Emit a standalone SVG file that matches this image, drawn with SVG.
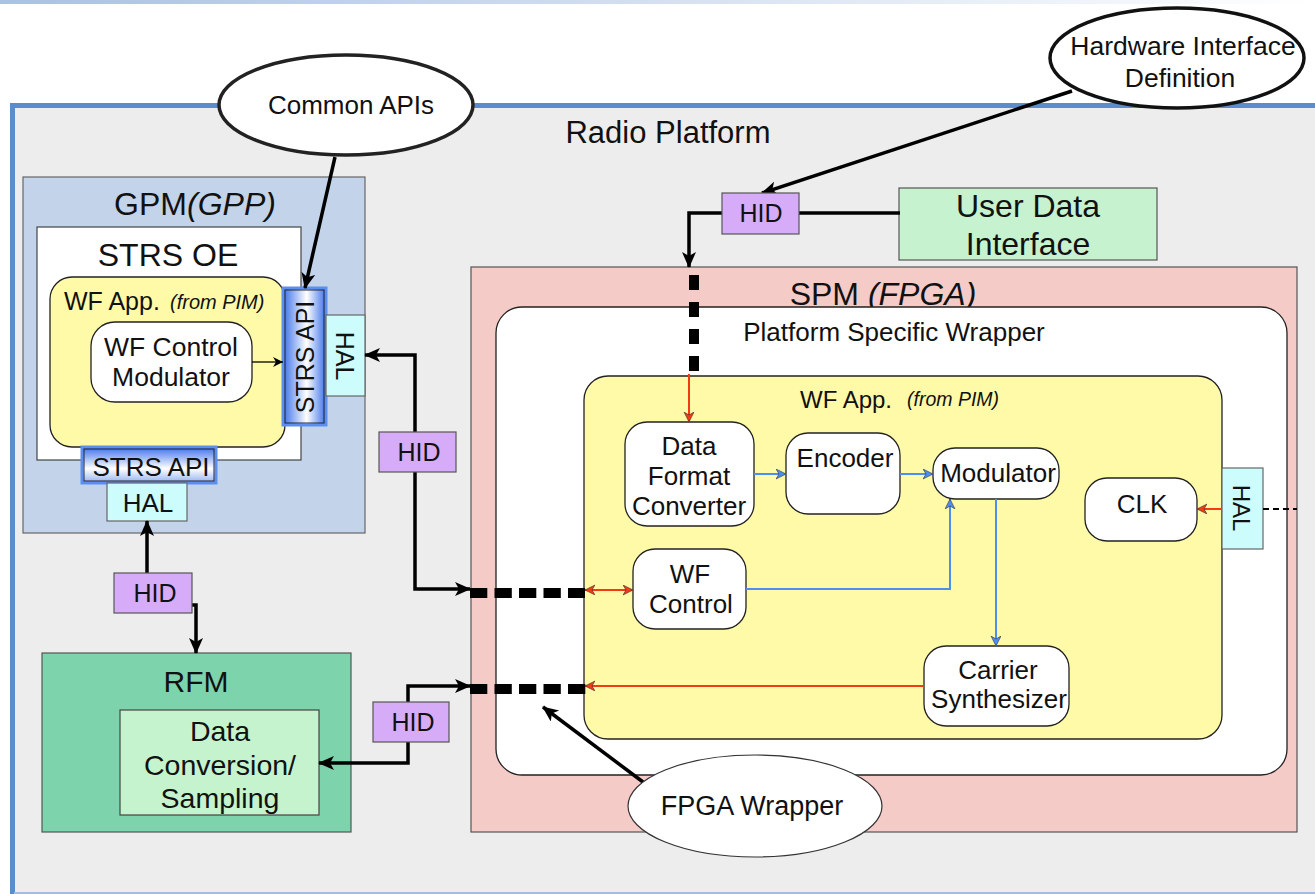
<svg xmlns="http://www.w3.org/2000/svg" width="1315" height="894" viewBox="0 0 1315 894">
<defs>
<style>
text{font-family:"Liberation Sans",Arial,sans-serif;fill:#111}
.c{text-anchor:middle}
.it{font-style:italic}
.hid{fill:#d6acf8;stroke:#555;stroke-width:1.2}
.hal{fill:#ccfcfc;stroke:#666;stroke-width:1.2}
.wn{fill:#fff;stroke:#222;stroke-width:1.3}
.thick{fill:none;stroke:#000;stroke-width:3.5;marker-end:url(#ab)}
.dash{fill:none;stroke:#000;stroke-width:10;stroke-dasharray:17.3 7.2}
.red{fill:none;stroke:#f23a14;stroke-width:2;marker-end:url(#ar)}
.blue{fill:none;stroke:#4d8ef5;stroke-width:2;marker-end:url(#abl)}
</style>
<marker id="ab" markerUnits="userSpaceOnUse" markerWidth="18" markerHeight="16" refX="15" refY="7" orient="auto"><path d="M0,0 L16,7 L0,14 L4,7 Z" fill="#000"/></marker>
<marker id="as" markerUnits="userSpaceOnUse" markerWidth="12" markerHeight="12" refX="10" refY="5" orient="auto"><path d="M0,0 L10,5 L0,10 L3,5 Z" fill="#000"/></marker>
<marker id="ar" markerUnits="userSpaceOnUse" markerWidth="12" markerHeight="12" refX="10" refY="5" orient="auto-start-reverse"><path d="M0,0 L10,5 L0,10 L3,5 Z" fill="#f23a14" stroke="#333" stroke-width="0.6"/></marker>
<marker id="abl" markerUnits="userSpaceOnUse" markerWidth="12" markerHeight="12" refX="10" refY="5" orient="auto"><path d="M0,0 L10,5 L0,10 L3,5 Z" fill="#4d8ef5" stroke="#333" stroke-width="0.6"/></marker>
<linearGradient id="topbar" x1="0" y1="0" x2="1" y2="0"><stop offset="0" stop-color="#a9c1e3"/><stop offset="1" stop-color="#fff"/></linearGradient>
<linearGradient id="apiV" x1="0" y1="0" x2="1" y2="0"><stop offset="0" stop-color="#3a70e8"/><stop offset="0.55" stop-color="#fff"/><stop offset="1" stop-color="#3a70e8"/></linearGradient>
<linearGradient id="apiH" x1="0" y1="0" x2="0" y2="1"><stop offset="0" stop-color="#3a70e8"/><stop offset="0.6" stop-color="#fff"/><stop offset="1" stop-color="#8fb0f0"/></linearGradient>
</defs>

<g id="background">
<rect x="0" y="0" width="1315" height="4" fill="url(#topbar)"/>
<rect x="12" y="105" width="1310" height="790" fill="#ededed"/>
<path d="M12.5,894 V105.5 H1315" fill="none" stroke="#5b8ccb" stroke-width="5"/>
<line x1="14" y1="893" x2="1315" y2="893" stroke="#a3bde3" stroke-width="2"/>
<text x="668" y="143" class="c" font-size="31">Radio Platform</text>
<rect x="616" y="269" width="2" height="2" fill="#000"/>
</g>

<g id="gpm">
<rect x="23" y="177" width="342" height="356" fill="#c3d4ea" stroke="#666" stroke-width="1.2"/>
<text x="195" y="215" class="c" font-size="32">GPM<tspan class="it">(GPP)</tspan></text>
</g>
<g id="strs-oe">
<rect x="37" y="227" width="264" height="233" fill="#fff" stroke="#444" stroke-width="1.2"/>
<text x="168" y="266" class="c" font-size="32">STRS OE</text>
</g>
<g id="gpm-wfapp">
<rect x="50" y="277" width="235" height="170" rx="22" fill="#fffaa8" stroke="#222" stroke-width="1.3"/>
<text x="64" y="310" font-size="25">WF App.</text>
<text x="170" y="309" class="it" font-size="20">(from PIM)</text>
</g>
<g id="wf-control-modulator">
<rect x="91" y="322" width="161" height="80" rx="24" class="wn"/>
<text x="171" y="356" class="c" font-size="26.5">WF Control</text>
<text x="171" y="386" class="c" font-size="26.5">Modulator</text>
</g>
<g id="strs-api-v">
<rect x="283" y="288" width="43" height="137" fill="url(#apiV)" stroke="#5a8ff0" stroke-width="3"/>
<rect x="285" y="290" width="39" height="133" fill="none" stroke="#223" stroke-width="1"/>
<text transform="translate(305,357) rotate(-90)" x="0" y="9" class="c" font-size="25">STRS API</text>
</g>
<g id="hal-gpm-v">
<rect x="326" y="315" width="39" height="81" class="hal"/>
<text transform="translate(345,356) rotate(90)" x="0" y="9" class="c" font-size="25">HAL</text>
</g>
<g id="strs-api-h">
<rect x="82" y="447" width="134" height="36" fill="url(#apiH)" stroke="#5a8ff0" stroke-width="3"/>
<rect x="84" y="449" width="130" height="32" fill="none" stroke="#223" stroke-width="1"/>
<text x="151" y="476" class="c" font-size="26">STRS API</text>
</g>
<g id="hal-gpm-h">
<rect x="107" y="483" width="80" height="38" class="hal"/>
<text x="148" y="512" class="c" font-size="26">HAL</text>
</g>

<g id="rfm">
<rect x="42" y="653" width="309" height="179" fill="#7dd3ac" stroke="#555" stroke-width="1.2"/>
<text x="196" y="692" class="c" font-size="30">RFM</text>
</g>
<g id="data-conversion">
<rect x="120" y="710" width="199" height="105" fill="#c5f3cd" stroke="#444" stroke-width="1.2"/>
<text x="220" y="741" class="c" font-size="28.5">Data</text>
<text x="220" y="775" class="c" font-size="28.5">Conversion/</text>
<text x="220" y="808" class="c" font-size="28.5">Sampling</text>
</g>

<g id="user-data-interface">
<rect x="899" y="188" width="258" height="72" fill="#c6f2cf" stroke="#555" stroke-width="1.2"/>
<text x="1028" y="217" class="c" font-size="32">User Data</text>
<text x="1028" y="255" class="c" font-size="32">Interface</text>
</g>

<g id="spm">
<rect x="471" y="267" width="826" height="565" fill="#f5cbc7" stroke="#555" stroke-width="1.2"/>
<text x="883" y="305" class="c" font-size="32">SPM <tspan class="it">(FPGA)</tspan></text>
</g>
<g id="platform-specific-wrapper">
<rect x="496" y="307" width="791" height="468" rx="26" fill="#fff" stroke="#222" stroke-width="1.3"/>
<text x="894" y="341" class="c" font-size="26">Platform Specific Wrapper</text>
</g>
<g id="spm-wfapp">
<rect x="584" y="376" width="638" height="363" rx="24" fill="#fffaa8" stroke="#222" stroke-width="1.3"/>
<text x="800" y="408" font-size="24">WF App.</text>
<text x="907" y="406" class="it" font-size="19.5">(from PIM)</text>
</g>
<g id="data-format-converter">
<rect x="625" y="422" width="129" height="104" rx="22" class="wn"/>
<text x="689" y="455" class="c" font-size="26">Data</text>
<text x="689" y="485" class="c" font-size="26">Format</text>
<text x="689" y="515" class="c" font-size="26">Converter</text>
</g>
<g id="encoder">
<rect x="786" y="433" width="114" height="81" rx="22" class="wn"/>
<text x="845" y="467" class="c" font-size="26">Encoder</text>
</g>
<g id="modulator">
<rect x="933" y="448" width="126" height="51" rx="22" class="wn"/>
<text x="998" y="482" class="c" font-size="26">Modulator</text>
</g>
<g id="clk">
<rect x="1085" y="478" width="112" height="63" rx="22" class="wn"/>
<text x="1142" y="513" class="c" font-size="26">CLK</text>
</g>
<g id="wf-control">
<rect x="633" y="549" width="113" height="80" rx="22" class="wn"/>
<text x="690" y="583" class="c" font-size="26">WF</text>
<text x="691" y="613" class="c" font-size="26">Control</text>
</g>
<g id="carrier-synthesizer">
<rect x="924" y="646" width="145" height="80" rx="22" class="wn"/>
<text x="998" y="679" class="c" font-size="26">Carrier</text>
<text x="999" y="708" class="c" font-size="26">Synthesizer</text>
</g>
<g id="hal-spm">
<rect x="1222" y="468" width="41" height="81" class="hal"/>
<text transform="translate(1242,508) rotate(90)" x="0" y="9" class="c" font-size="24">HAL</text>
</g>

<g id="connectors">
<line x1="252" y1="362" x2="283" y2="362" stroke="#000" stroke-width="1.3" marker-end="url(#as)"/>
<line x1="335" y1="157" x2="305" y2="288" class="thick"/>
<line x1="1072" y1="91" x2="762" y2="193" class="thick"/>
<path d="M722,213 H689 V267" class="thick"/>
<path d="M799,213 H900" fill="none" stroke="#000" stroke-width="3.5"/>
<path d="M694,275 V372" fill="none" stroke="#000" stroke-width="10" stroke-dasharray="15 12"/>
<path d="M689,374 V422" class="red"/>
<path d="M415,432 V355 H365" class="thick"/>
<path d="M415,472 V589 H470" class="thick"/>
<path d="M470,593 H585" class="dash"/>
<path d="M585,590 H633" class="red" marker-start="url(#ar)"/>
<path d="M147,573 V521" class="thick"/>
<path d="M192,605 H196 V653" class="thick"/>
<path d="M408,742 V763 H319" class="thick"/>
<path d="M408,702 V686 H470" class="thick"/>
<path d="M470,689 H590" class="dash"/>
<path d="M924,686 H585" class="red"/>
<path d="M754,474 H786" class="blue"/>
<path d="M900,474 H933" class="blue"/>
<path d="M746,589 H950 V499" class="blue"/>
<path d="M996,499 V646" class="blue"/>
<path d="M1222,509 H1197" class="red"/>
<path d="M1263,509 H1297" fill="none" stroke="#000" stroke-width="2" stroke-dasharray="6 4"/>
<line x1="643" y1="782" x2="543" y2="707" class="thick"/>
</g>

<g id="hid-top">
<rect x="722" y="193" width="77" height="41" class="hid"/>
<text x="761" y="222" class="c" font-size="25">HID</text>
</g>
<g id="hid-mid">
<rect x="379" y="432" width="77" height="40" class="hid"/>
<text x="419" y="461" class="c" font-size="25">HID</text>
</g>
<g id="hid-gpm">
<rect x="114" y="573" width="78" height="40" class="hid"/>
<text x="155" y="602" class="c" font-size="25">HID</text>
</g>
<g id="hid-rfm">
<rect x="373" y="702" width="76" height="40" class="hid"/>
<text x="413" y="731" class="c" font-size="25">HID</text>
</g>

<g id="common-apis">
<ellipse cx="346" cy="105" rx="127" ry="50" fill="#fff" stroke="#222" stroke-width="3.5"/>
<text x="351" y="114" class="c" font-size="26">Common APIs</text>
</g>
<g id="hardware-interface-definition">
<ellipse cx="1177" cy="58" rx="127" ry="50" fill="#fff" stroke="#111" stroke-width="3.5"/>
<text x="1183" y="55" class="c" font-size="26.5">Hardware Interface</text>
<text x="1180" y="87" class="c" font-size="26.5">Definition</text>
</g>
<g id="fpga-wrapper">
<ellipse cx="755" cy="806" rx="127" ry="51" fill="#fff" stroke="#333" stroke-width="1.2"/>
<text x="752" y="815" class="c" font-size="27">FPGA Wrapper</text>
</g>
</svg>
